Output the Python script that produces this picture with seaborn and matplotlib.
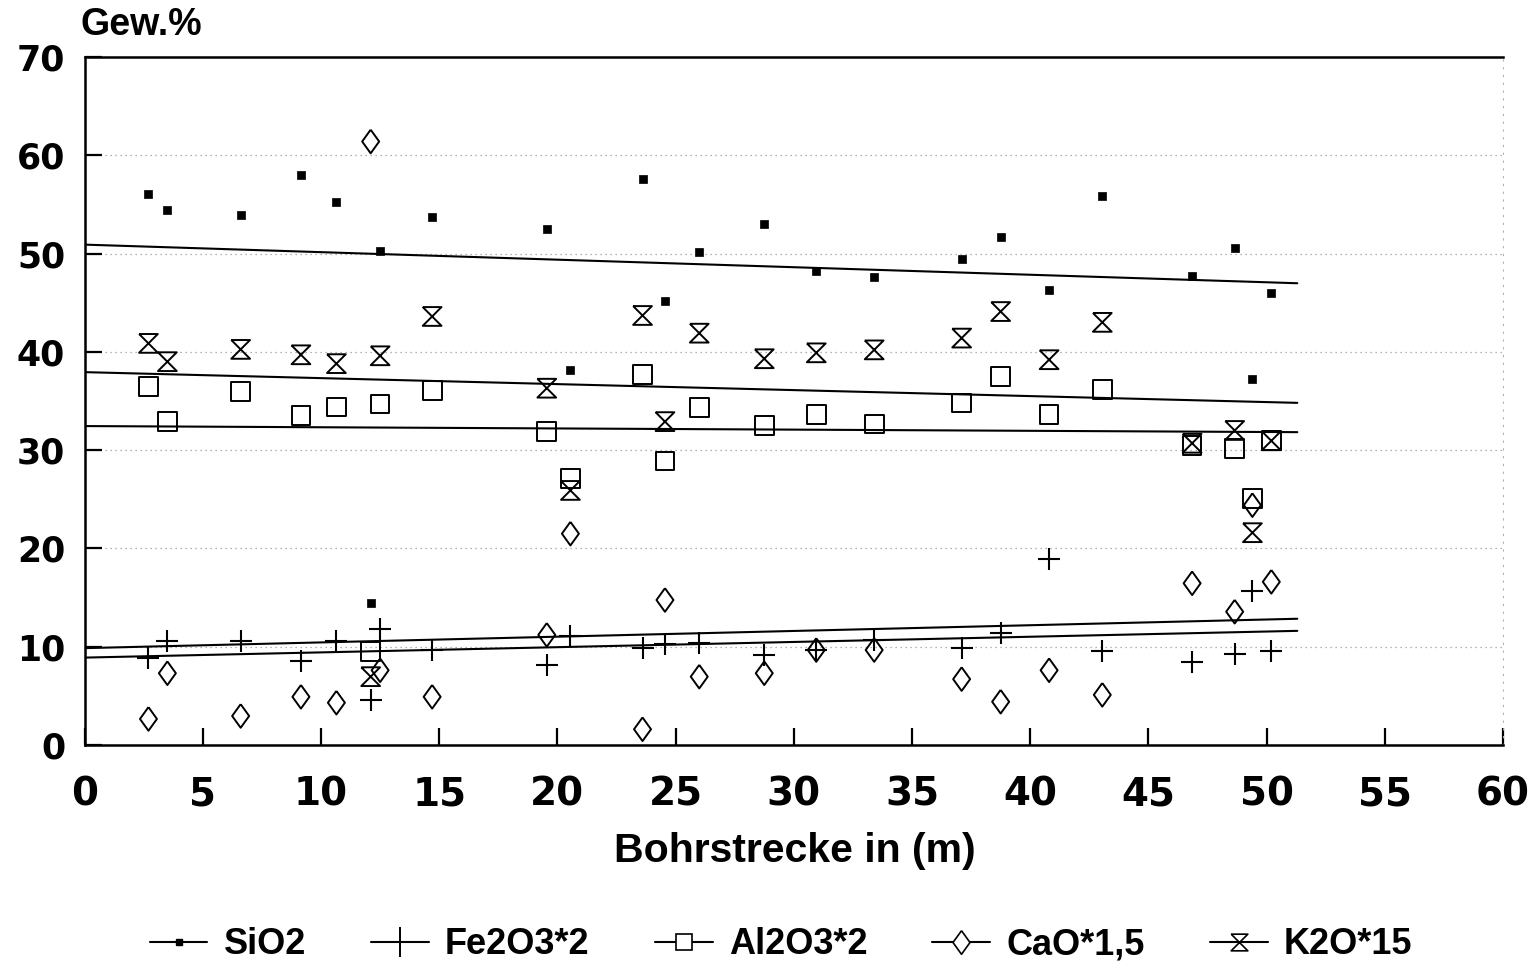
import numpy as np
import matplotlib
matplotlib.use("Agg")
import matplotlib.pyplot as plt
import seaborn as sns
from matplotlib.lines import Line2D

# ---- data ----
depth = [2.7, 3.5, 6.6, 9.15, 10.65, 12.1, 12.5, 14.7, 19.55, 20.55, 23.6, 24.55,
         26.0, 28.75, 30.95, 33.4, 37.1, 38.75, 40.8, 43.05, 46.85, 48.65, 49.4, 50.2]
sio2 = [56.05, 54.4, 53.9, 57.95, 55.2, 14.4, 50.25, 53.75, 52.5, 38.2, 57.6, 45.2,
        50.2, 53.05, 48.2, 47.6, 49.4, 51.7, 46.3, 55.9, 47.7, 50.6, 37.2, 46.0]
fe2o3_x2 = [8.8, 10.6, 10.6, 8.5, 10.6, 4.6, 11.8, 9.66, 8.1, 11.1, 9.83, 10.3,
            10.4, 9.16, 9.66, 10.7, 9.83, 11.35, 18.9, 9.56, 8.4, 9.3, 15.7, 9.56]
al2o3_x2 = [36.5, 32.9, 36.0, 33.5, 34.4, 9.5, 34.7, 36.1, 31.9, 27.1, 37.7, 28.9,
            34.3, 32.5, 33.6, 32.65, 34.8, 37.5, 33.6, 36.2, 30.5, 30.2, 25.1, 30.95]
cao_x15 = [2.65, 7.3, 2.95, 4.9, 4.3, 61.4, 7.6, 4.9, 11.2, 21.5, 1.6, 14.75,
           6.95, 7.3, 9.66, 9.66, 6.7, 4.4, 7.6, 5.1, 16.45, 13.56, 24.4, 16.6]
k2o_x15 = [40.86, 39.0, 40.25, 39.7, 38.8, 6.95, 39.6, 43.6, 36.3, 25.9, 43.7, 32.9,
           41.9, 39.3, 39.9, 40.2, 41.4, 44.1, 39.2, 43.0, 30.7, 32.0, 21.6, 30.95]
labels = ["SiO2", "Fe2O3*2", "Al2O3*2", "CaO*1,5", "K2O*15"]
fit_end = 51.3
x_ticks = list(range(0, 61, 5))
y_ticks = list(range(0, 71, 10))

sns.set_theme(style="white")
plt.rcParams["font.family"] = ["Liberation Sans", "DejaVu Sans"]
plt.rcParams["font.weight"] = "bold"
plt.rcParams["text.color"] = "black"

hourglass = [(-1, 1), (1, 1), (-1, -1), (1, -1), (-1, 1)]
diamond = [(0, 1), (0.72, 0), (0, -1), (-0.72, 0), (0, 1)]

fig = plt.figure(figsize=(15.36, 9.66), dpi=100)
ax = fig.add_axes([0.0551, 0.2288, 0.9234, 0.7122])

# regression lines (drawn from 0 to the end of the profile)
ax.set_xlim(0, fit_end)
for vals in [sio2, fe2o3_x2, al2o3_x2, cao_x15, k2o_x15]:
    sns.regplot(x=depth, y=vals, scatter=False, ci=None, truncate=False,
                color="black", line_kws={"linewidth": 1.5}, ax=ax)

sns.scatterplot(x=depth, y=sio2, marker="s", s=26, color="black",
                edgecolor="black", linewidth=0.5, ax=ax, zorder=3)
sns.scatterplot(x=depth, y=fe2o3_x2, marker="+", s=16.5 ** 2, color="black",
                linewidth=1.5, ax=ax, zorder=3)
sns.scatterplot(x=depth, y=al2o3_x2, marker="s", s=13.5 ** 2, color="black",
                facecolors="none", edgecolor="black", linewidth=1.4, ax=ax, zorder=3)
sns.scatterplot(x=depth, y=cao_x15, marker=diamond, s=17 ** 2, color="black",
                facecolors="none", edgecolor="black", linewidth=1.4, ax=ax, zorder=3)
sns.scatterplot(x=depth, y=k2o_x15, marker=hourglass, s=13.5 ** 2, color="black",
                facecolors="none", edgecolor="black", linewidth=1.4, ax=ax, zorder=3)

ax.set_xlim(0, 60)
ax.set_ylim(0, 70)
ax.set_xticks(x_ticks)
ax.set_yticks(y_ticks)
ax.set_xlabel("")
ax.set_ylabel("")

ax.yaxis.grid(True, linestyle=(0, (1, 3)), color="#9a9a9a", linewidth=0.9)
ax.xaxis.grid(False)

for side in ["left", "bottom", "top"]:
    ax.spines[side].set_color("black")
    ax.spines[side].set_linewidth(1.8)
ax.spines["right"].set_color("#b0b0b0")
ax.spines["right"].set_linewidth(0.8)
ax.spines["right"].set_linestyle((0, (1, 6)))

ax.tick_params(axis="both", which="both", direction="in", length=12, width=1.6,
               color="black", labelcolor="black", bottom=True, left=True,
               top=False, right=False)
ax.tick_params(axis="x", labelsize=28, pad=22)
ax.tick_params(axis="y", labelsize=25, pad=14)
for lab in ax.get_xticklabels() + ax.get_yticklabels():
    lab.set_fontweight("bold")
    lab.set_fontfamily(["DejaVu Sans"])

fig.text(80 / 1536, 1 - 25 / 966, "Gew.%", fontsize=27, fontweight="bold",
         ha="left", va="center", color="black")
fig.text(795 / 1536, 1 - 851 / 966, "Bohrstrecke in (m)", fontsize=29.5,
         fontweight="bold", ha="center", va="center", color="black")

handles = [
    Line2D([0], [0], color="black", lw=1.5, marker="s", markersize=5,
           markerfacecolor="black", markeredgecolor="black"),
    Line2D([0], [0], color="black", lw=1.5, marker="+", markersize=22,
           markeredgewidth=1.4, markeredgecolor="black"),
    Line2D([0], [0], color="black", lw=1.5, marker="s", markersize=12,
           markerfacecolor="white", markeredgecolor="black", markeredgewidth=1.2),
    Line2D([0], [0], color="black", lw=1.5, marker=diamond, markersize=17,
           markerfacecolor="white", markeredgecolor="black", markeredgewidth=1.2),
    Line2D([0], [0], color="black", lw=1.5, marker=hourglass, markersize=12,
           markerfacecolor="white", markeredgecolor="black", markeredgewidth=1.2),
]
fig.legend(handles, labels, loc="center", bbox_to_anchor=(781 / 1536, 1 - 945 / 966),
           ncol=5, frameon=False, handlelength=1.6, handletextpad=0.45,
           columnspacing=1.8, prop={"weight": "bold", "size": 26})

fig.savefig("out.png", dpi=100, facecolor="white")
